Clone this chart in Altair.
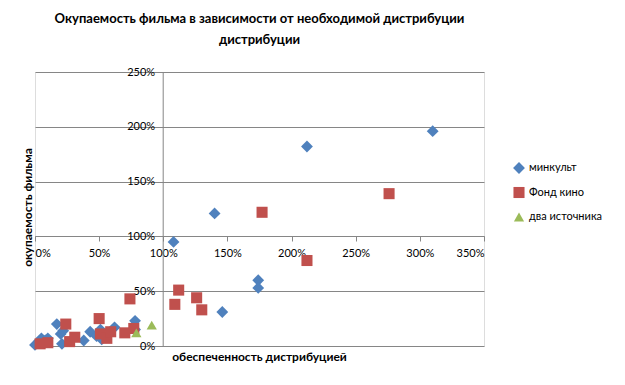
import altair as alt
import pandas as pd

# Data (fractions: 1.0 = 100%)
minkult_x = [0.00, 0.03, 0.05, 0.08, 0.10, 0.17, 0.20, 0.21, 0.22, 0.38, 0.43, 0.48, 0.51, 0.52, 0.62, 0.78, 0.78,
             1.08, 1.40, 1.46, 1.74, 1.74, 2.12, 3.10]
minkult_y = [0.01, 0.04, 0.07, 0.05, 0.07, 0.20, 0.11, 0.02, 0.14, 0.05, 0.13, 0.09, 0.15, 0.06, 0.17, 0.23, 0.15,
             0.95, 1.21, 0.31, 0.60, 0.53, 1.82, 1.96]
fond_x = [0.04, 0.10, 0.24, 0.27, 0.31, 0.50, 0.51, 0.56, 0.59, 0.70, 0.74, 0.77, 1.09, 1.12, 1.26, 1.30, 1.77, 2.12, 2.76]
fond_y = [0.02, 0.03, 0.20, 0.04, 0.08, 0.25, 0.11, 0.07, 0.13, 0.12, 0.43, 0.16, 0.38, 0.51, 0.44, 0.33, 1.22, 0.78, 1.39]
both_x = [0.79, 0.91]
both_y = [0.12, 0.19]

series = ["минкульт", "Фонд кино", "два источника"]
colors = ["#4F81BD", "#C0504D", "#9BBB59"]
shapes = ["diamond", "square", "triangle-up"]
sizes = [140, 105, 120]

x_ticks = [0, 0.5, 1.0, 1.5, 2.0, 2.5, 3.0, 3.5]
y_ticks = [0, 0.5, 1.0, 1.5, 2.0, 2.5]

rows = []
for name, xs, ys in [(series[0], minkult_x, minkult_y), (series[1], fond_x, fond_y), (series[2], both_x, both_y)]:
    for a, b in zip(xs, ys):
        rows.append({"x": a, "y": b, "s": name})
df = pd.DataFrame(rows)

GRAY = "#868686"
FONT = "Lato"

chart = alt.Chart(df).mark_point(filled=True, opacity=1).encode(
    x=alt.X("x:Q",
            scale=alt.Scale(domain=[0, 3.5], nice=False, zero=False),
            axis=alt.Axis(values=x_ticks, format=".0%", grid=False, offset=-110,
                          domainColor=GRAY, tickColor=GRAY, tickSize=5, labelPadding=6,
                          labelFont=FONT, labelFontSize=11, labelColor="#000000",
                          title="обеспеченность  дистрибуцией", titleFont=FONT, titleFontSize=12,
                          titleFontWeight="bold", titleX=224, titleY=120, titleAlign="center",
                          titleBaseline="middle", titleColor="#000000")),
    y=alt.Y("y:Q",
            scale=alt.Scale(domain=[0, 2.5], nice=False, zero=False),
            axis=alt.Axis(values=y_ticks, format=".0%", grid=True, gridColor=GRAY, offset=-127.7,
                          domainColor=GRAY, tickColor=GRAY, tickSize=5, labelPadding=3,
                          labelFont=FONT, labelFontSize=11, labelColor="#000000",
                          title="окупаемость  фильма", titleFont=FONT, titleFontSize=12,
                          titleFontWeight="bold", titleX=-135.7, titleY=135, titleAngle=270,
                          titleAlign="center", titleBaseline="middle", titleColor="#000000")),
    color=alt.Color("s:N", scale=alt.Scale(domain=series, range=colors),
                    legend=alt.Legend(title=None, orient="none", legendX=477, legendY=89,
                                      labelFont=FONT, labelFontSize=11, symbolSize=75,
                                      rowPadding=12, labelOffset=3)),
    shape=alt.Shape("s:N", scale=alt.Scale(domain=series, range=shapes)),
    size=alt.Size("s:N", scale=alt.Scale(domain=series, range=sizes), legend=None),
).properties(
    width=449,
    height=274,
    autosize=alt.AutoSizeParams(type="none"),
    padding={"left": 27, "top": 64, "right": 133, "bottom": 31},
    title=alt.TitleParams(
        text=["Окупаемость фильма в зависимости от необходимой дистрибуции", "дистрибуции"],
        font=FONT, fontSize=13, fontWeight="bold", anchor="middle", lineHeight=21,
        offset=19, color="#000000"),
).configure_view(stroke=None).configure(background="white")

chart.save("out.html", embed_options={"renderer": "svg", "actions": False})
